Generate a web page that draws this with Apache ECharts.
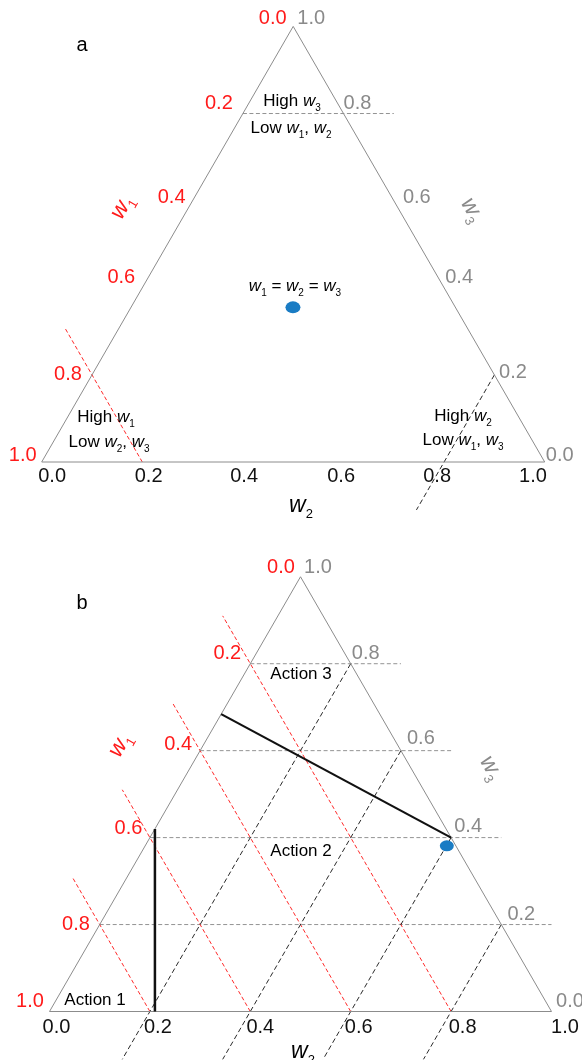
<!DOCTYPE html>
<html><head><meta charset="utf-8">
<script src="https://cdn.jsdelivr.net/npm/echarts@6/dist/echarts.min.js"></script>
<style>html,body{margin:0;padding:0;background:#fff}#c{width:582px;height:1060px}</style>
</head><body><div id="c"></div>
<script>
// ---------------- DATA ----------------
const ticks = [0, 0.2, 0.4, 0.6, 0.8, 1.0];
const tickLabels = ['0.0', '0.2', '0.4', '0.6', '0.8', '1.0'];
// panel a guide lines (constant w1, w2, w3)
const guideW1A = [0.8];
const guideW2A = [0.8];
const guideW3A = [0.8];
// panel b guide lines
const guideW1B = [0.2, 0.4, 0.6, 0.8];
const guideW2B = [0.2, 0.4, 0.6, 0.8];
const guideW3B = [0.2, 0.4, 0.6, 0.8];
// points (w1, w2, w3)
const pointA = [0.323, 0.322, 0.355];
const pointB = [0.018, 0.601, 0.381];
// action boundaries in panel b (w1, w2, w3)
const boundary1B = [[0.79, 0.21, 0.0], [0.58, 0.0, 0.42]];
const boundary2B = [[0.316, 0.0, 0.684], [0.0, 0.6, 0.4]];

// ---------------- LAYOUT / STYLE ----------------
const S = Math.sqrt(3) / 2;
const cart = t => [t[1] + t[2] / 2, t[2] * S];
const FONT = '"Liberation Sans", Arial, Helvetica, sans-serif';
const RED = '#ff1a1a', GRAY = '#8a8a8a', EDGE = '#8c8c8c', INK = '#111111', BLUE = '#1a7cc4';
const EXT_H = 0.1, EXT_S = 0.11;

const tickOff = [
  { w1: [[-20.5,-8.4],[-24,-10],[-21,-3.6],[-21,-10],[-24,0],[-19,-7]],
    w3: [[15,-7],[18.6,-2],[15,-10],[23,-3.6],[14,-10],[18,-8.4]],
    w2: [[10.4,14],[6.3,14],[1.2,14],[-2.4,14],[-7,14],[-11.7,14]] },
  { w1: [[-19.5,-9],[-23,-10],[-22,-6],[-21.4,-9.3],[-23.7,0],[-19.5,-10]],
    w3: [[18.5,-10],[20,-9.6],[17,-11.6],[20,-12],[15,-10.6],[17.5,-9]],
    w2: [[7,16],[8,16],[10,16],[8,16],[11.5,16],[13.5,16]] }
];

function seg(p, pts, style, z) {
  return { type: 'line', xAxisIndex: p, yAxisIndex: p, data: pts.map(cart), symbol: 'none',
    clip: false, silent: true, animation: false, lineStyle: style, z: z || 2 };
}
const dashGray = { color: '#939393', width: 1, type: [4, 2.5] };
const dashRed = { color: '#ff2a2a', width: 1, type: [4, 2.5] };
const dashBlack = { color: '#2a2a2a', width: 1, type: [5, 3] };

function panelSeries(p, g1, g2, g3) {
  const s = [];
  g3.forEach(v => s.push(seg(p, [[1 - v, 0, v], [-EXT_H, 1 - v + EXT_H, v]], dashGray)));
  g1.forEach(v => s.push(seg(p, [[v, 1 - v, 0], [v, -EXT_S, 1 - v + EXT_S]], dashRed)));
  g2.forEach(v => s.push(seg(p, [[0, v, 1 - v], [1 - v + EXT_S, v, -EXT_S]], dashBlack)));
  s.push(seg(p, [[1,0,0],[0,1,0],[0,0,1],[1,0,0]], { color: EDGE, width: 1 }, 3));
  // tick labels
  const mk = (key, ptFn, color) => ({
    type: 'scatter', xAxisIndex: p, yAxisIndex: p, symbolSize: 0, silent: true, animation: false, z: 5,
    itemStyle: { opacity: 1 },
    data: ticks.map((v, i) => ({ value: cart(ptFn(v)), label: { offset: tickOff[p][key][i] } })),
    label: { show: true, position: 'inside', formatter: q => tickLabels[q.dataIndex], opacity: 1,
      color: color, fontSize: 20, fontFamily: FONT }
  });
  s.push(mk('w1', v => [v, 0, 1 - v], RED));
  s.push(mk('w3', v => [0, 1 - v, v], GRAY));
  s.push(mk('w2', v => [1 - v, v, 0], INK));
  return s;
}

const series = [].concat(
  panelSeries(0, guideW1A, guideW2A, guideW3A),
  panelSeries(1, guideW1B, guideW2B, guideW3B),
  [
    seg(1, boundary1B, { color: INK, width: 2.5 }, 4),
    seg(1, boundary2B, { color: INK, width: 2.2 }, 4),
    { type: 'scatter', xAxisIndex: 0, yAxisIndex: 0, symbol: 'circle', symbolSize: [15, 12],
      itemStyle: { color: BLUE, opacity: 1 }, data: [cart(pointA)], silent: true, animation: false, z: 6 },
    { type: 'scatter', xAxisIndex: 1, yAxisIndex: 1, symbol: 'circle', symbolSize: [14, 11],
      itemStyle: { color: BLUE, opacity: 1 }, data: [cart(pointB)], silent: true, animation: false, z: 6 }
  ]
);

// rich text helpers
function richStyle(fs, color) {
  const sub = Math.round(fs * 0.58);
  return {
    t: { fontSize: fs, fontFamily: FONT, fill: color, lineHeight: fs + 7 },
    w: { fontSize: fs, fontFamily: FONT, fontStyle: 'italic', fill: color, lineHeight: fs + 7 },
    s: { fontSize: sub, fontFamily: FONT, fill: color, lineHeight: 6, verticalAlign: 'bottom' }
  };
}
function txt(x, y, text, fs, color, rot) {
  return { type: 'text', x: x, y: y, rotation: rot || 0, z: 100, silent: true,
    style: { text: text, rich: richStyle(fs, color), fill: color, font: fs + 'px ' + FONT,
      align: 'center', verticalAlign: 'middle' } };
}
const graphics = [
  txt(82, 45, '{t|a}', 20, '#000'),
  txt(82, 603, '{t|b}', 20, '#000'),
  txt(292, 101, '{t|High }{w|w}{s|3}', 17, '#000'),
  txt(291, 128, '{t|Low }{w|w}{s|1}{t|, }{w|w}{s|2}', 17, '#000'),
  txt(106, 417, '{t|High }{w|w}{s|1}', 17, '#000'),
  txt(109, 442, '{t|Low }{w|w}{s|2}{t|, }{w|w}{s|3}', 17, '#000'),
  txt(463, 416, '{t|High }{w|w}{s|2}', 17, '#000'),
  txt(463, 440, '{t|Low }{w|w}{s|1}{t|, }{w|w}{s|3}', 17, '#000'),
  txt(295, 286, '{w|w}{s|1}{t| = }{w|w}{s|2}{t| = }{w|w}{s|3}', 17, '#000'),
  txt(122, 207, '{w|w}{s|1}', 23, RED, Math.PI / 3),
  txt(472, 210, '{w|w}{s|3}', 23, GRAY, -Math.PI / 3),
  txt(301, 506, '{w|w}{s|2}', 23, '#000'),
  txt(301, 674, '{t|Action 3}', 17, '#000'),
  txt(301, 851, '{t|Action 2}', 17, '#000'),
  txt(95, 1000, '{t|Action 1}', 17, '#000'),
  txt(120, 745, '{w|w}{s|1}', 23, RED, Math.PI / 3),
  txt(491, 768, '{w|w}{s|3}', 23, GRAY, -Math.PI / 3),
  txt(303, 1052, '{w|w}{s|2}', 23, '#000')
];

const chart = echarts.init(document.getElementById('c'), null, { renderer: 'canvas' });
chart.setOption({
  backgroundColor: '#ffffff',
  animation: false,
  grid: [
    { left: 41.7, top: 26.4, width: 503, height: 503 * S },
    { left: 49.5, top: 1011.5 - 502 * S, width: 502, height: 502 * S }
  ],
  xAxis: [
    { gridIndex: 0, type: 'value', min: 0, max: 1, show: false },
    { gridIndex: 1, type: 'value', min: 0, max: 1, show: false }
  ],
  yAxis: [
    { gridIndex: 0, type: 'value', min: 0, max: S, show: false },
    { gridIndex: 1, type: 'value', min: 0, max: S, show: false }
  ],
  series: series,
  graphic: graphics
});
</script>
</body></html>
